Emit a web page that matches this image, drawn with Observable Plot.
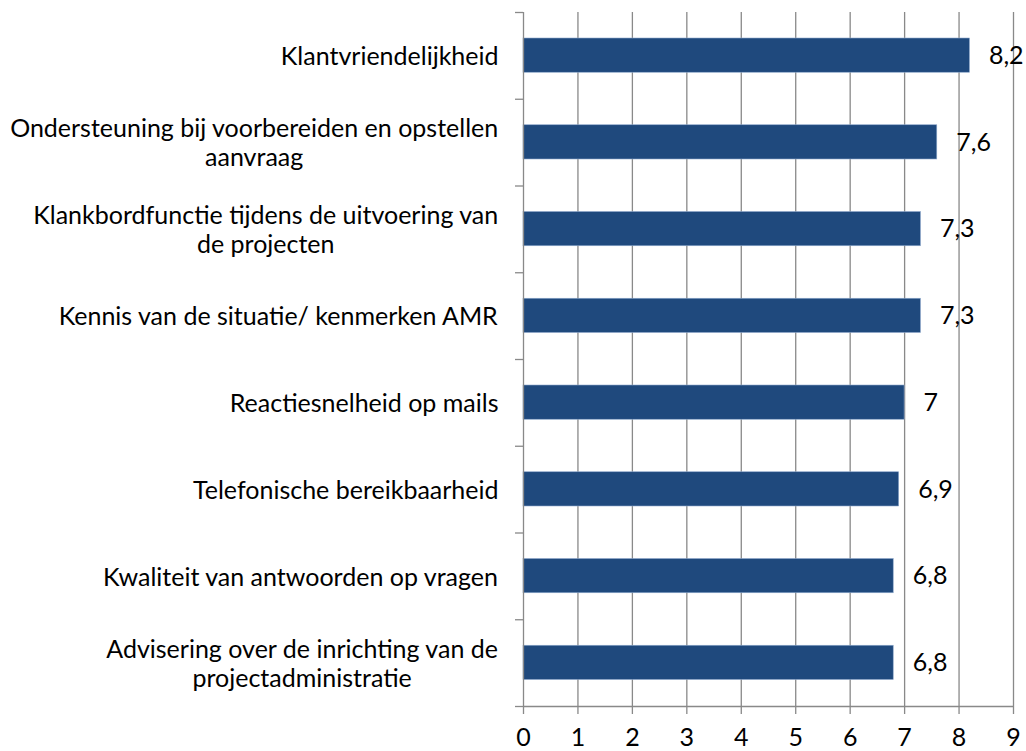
<!DOCTYPE html>
<html>
<head>
<meta charset="utf-8">
<script src="https://cdn.jsdelivr.net/npm/d3@7"></script>
<script src="https://cdn.jsdelivr.net/npm/@observablehq/plot@0.6"></script>
<style>
  html, body { margin: 0; padding: 0; background: #fff; }
  #chart svg { display: block; }
</style>
</head>
<body>
<div id="chart"></div>
<script>
const categories = [
  "Klantvriendelijkheid",
  "Ondersteuning bij voorbereiden en opstellen\naanvraag",
  "Klankbordfunctie tijdens de uitvoering van\nde projecten",
  "Kennis van de situatie/ kenmerken AMR",
  "Reactiesnelheid op mails",
  "Telefonische bereikbaarheid",
  "Kwaliteit van antwoorden op vragen",
  "Advisering over de inrichting van de\nprojectadministratie"
];
const values = [8.2, 7.6, 7.3, 7.3, 7.0, 6.9, 6.8, 6.8];
const xTicks = [0, 1, 2, 3, 4, 5, 6, 7, 8, 9];

const FONT = "Lato";
const FS = 25;
const LINE = 29;
const GRID = "#898989";
const BAR = "#1f497d";

const rows = categories.map((c, i) => ({cat: c, i, value: values[i], label: String(values[i]).replace(".", ",")}));

const ctx = document.createElement("canvas").getContext("2d");
ctx.font = `${FS}px ${FONT}`;
function blockWidth(s) { return d3.max(s.split("\n"), l => ctx.measureText(l).width); }

const labelMarks = rows.map(r => Plot.text([r], {
  x: 0, y: r.i + 0.5, text: "cat",
  textAnchor: "middle", lineAnchor: "middle", lineHeight: LINE / FS,
  dx: -(25 + blockWidth(r.cat) / 2), fontSize: FS, fill: "#000"
}));

const chart = Plot.plot({
  width: 1026, height: 751,
  marginTop: 12, marginBottom: 45, marginLeft: 523, marginRight: 13,
  style: {fontFamily: FONT, fontSize: FS + "px", color: "#000", background: "#fff"},
  x: {domain: [0, 9], label: null},
  y: {domain: [0, categories.length], reverse: true, label: null},
  marks: [
    Plot.ruleX(xTicks.slice(1), {stroke: GRID, strokeWidth: 1.3}),
    Plot.rectX(rows, {x1: 0, x2: "value", y1: d => d.i, y2: d => d.i + 1, insetTop: 26, insetBottom: 26.5, fill: BAR, stroke: "#8fa9cc", strokeWidth: 0.6}),
    Plot.ruleX([0], {stroke: GRID, strokeWidth: 1.3}),
    Plot.ruleY([categories.length], {stroke: GRID, strokeWidth: 1.3}),
    Plot.axisY(d3.range(categories.length + 1), {tickSize: 8, tickFormat: () => "", stroke: GRID, strokeWidth: 1.3, label: null}),
    Plot.axisX(xTicks, {tickSize: 8, tickPadding: 14, fontSize: FS, stroke: GRID, strokeWidth: 1.3, fill: "#000", label: null}),
    Plot.text(rows, {x: "value", y: d => d.i + 0.5, text: "label", textAnchor: "start", dx: 19, fontSize: FS, fill: "#000"}),
    ...labelMarks
  ]
});
document.getElementById("chart").appendChild(chart);
</script>
</body>
</html>
